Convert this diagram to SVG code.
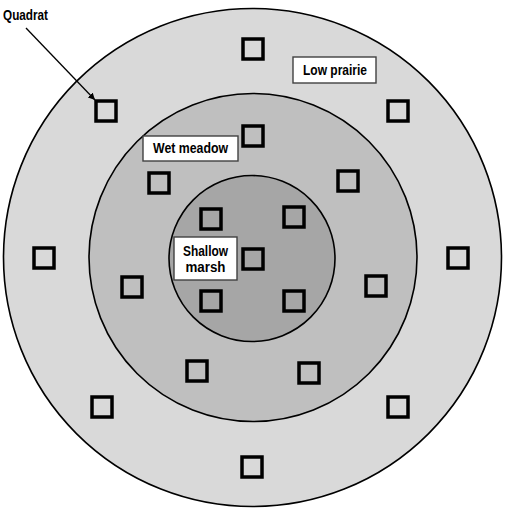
<svg xmlns="http://www.w3.org/2000/svg" width="505" height="512" viewBox="0 0 505 512">
<style>
.ring{stroke:#000;stroke-width:1.6}
.q{fill:none;stroke:#000;stroke-width:3.5}
.lbl{fill:#fff;stroke:#404040;stroke-width:1.4}
.t{font-family:"Liberation Sans",Arial,sans-serif;font-weight:bold;font-size:14px;fill:#000}
</style>
<defs>
<marker id="ah" viewBox="0 0 10 10" refX="10" refY="5" markerWidth="7" markerHeight="7" orient="auto" markerUnits="userSpaceOnUse">
<path d="M0,0 L10,5 L0,10 z" fill="#000"/>
</marker>
</defs>
<rect width="505" height="512" fill="#fff"/>
<g id="rings">
<circle id="low-prairie-zone" class="ring" cx="252.5" cy="257.5" r="249" fill="#d9d9d9"/>
<circle id="wet-meadow-zone" class="ring" cx="253" cy="257.5" r="164" fill="#bfbfbf"/>
<circle id="shallow-marsh-zone" class="ring" cx="252" cy="258.5" r="83" fill="#a6a6a6"/>
</g>
<g id="quadrats">
<rect class="q" x="96" y="101" width="20" height="20"/>
<rect class="q" x="243" y="39" width="20" height="20"/>
<rect class="q" x="388" y="101" width="20" height="20"/>
<rect class="q" x="243" y="126" width="20" height="20"/>
<rect class="q" x="149" y="173" width="20" height="20"/>
<rect class="q" x="338" y="171" width="20" height="20"/>
<rect class="q" x="201" y="209" width="20" height="20"/>
<rect class="q" x="284" y="207" width="20" height="20"/>
<rect class="q" x="243" y="249" width="20" height="20"/>
<rect class="q" x="201" y="291" width="20" height="20"/>
<rect class="q" x="284" y="291" width="20" height="20"/>
<rect class="q" x="34" y="248" width="20" height="20"/>
<rect class="q" x="448" y="248" width="20" height="20"/>
<rect class="q" x="122" y="277" width="20" height="20"/>
<rect class="q" x="366" y="276" width="20" height="20"/>
<rect class="q" x="187" y="361" width="20" height="20"/>
<rect class="q" x="299" y="363" width="20" height="20"/>
<rect class="q" x="92" y="397" width="20" height="20"/>
<rect class="q" x="388" y="397" width="20" height="20"/>
<rect class="q" x="242" y="457" width="20" height="20"/>
</g>
<g id="connectors">
<line x1="26" y1="28" x2="95" y2="100" stroke="#000" stroke-width="1.3" marker-end="url(#ah)"/>
</g>
<g id="quadrat-label">
<text class="t" x="3" y="20" textLength="45" lengthAdjust="spacingAndGlyphs">Quadrat</text>
</g>
<g id="low-prairie-label">
<rect class="lbl" x="293" y="57" width="83" height="26"/>
<text class="t" x="335" y="75" text-anchor="middle" textLength="64" lengthAdjust="spacingAndGlyphs">Low prairie</text>
</g>
<g id="wet-meadow-label">
<rect class="lbl" x="143" y="136" width="95" height="25"/>
<text class="t" x="190.5" y="153" text-anchor="middle" textLength="75" lengthAdjust="spacingAndGlyphs">Wet meadow</text>
</g>
<g id="shallow-marsh-label">
<rect class="lbl" x="174" y="237" width="63" height="43"/>
<text class="t" x="205.5" y="256" text-anchor="middle" textLength="45" lengthAdjust="spacingAndGlyphs">Shallow</text>
<text class="t" x="205.5" y="272" text-anchor="middle" textLength="40" lengthAdjust="spacingAndGlyphs">marsh</text>
</g>
</svg>
